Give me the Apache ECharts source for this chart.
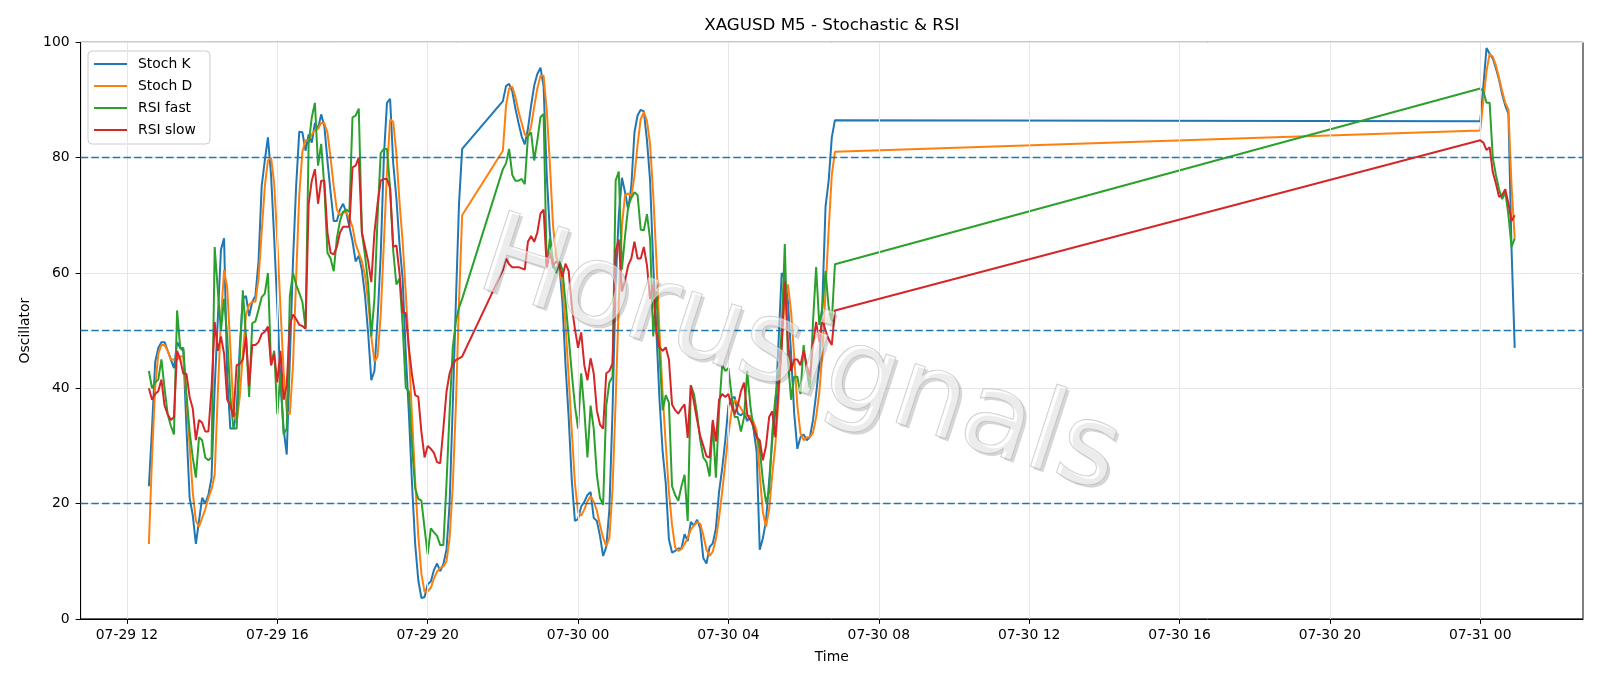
<!DOCTYPE html>
<html><head><meta charset="utf-8">
<script src="https://cdn.jsdelivr.net/npm/echarts@6/dist/echarts.min.js"></script>
<style>html,body{margin:0;padding:0;background:#fff}#c{width:1600px;height:686px}</style>
</head><body><div id="c"></div>
<script>
// time segments (hours since 07-29 00:00), 5-minute bars
const segStartHours = [12 + 35/60, 22, 48];
const segLengths = [101, 107, 12];

const stochK = [
 23,33,44.5,47,48,48,46.5,45,43.5,48,
 47,46.5,33,21,18,13,17,21,20,21.5,
 24.5,40,52,64,66,42,33,33,36,47,
 55.5,56,52.5,55,56,62,75,79.5,83.5,77,
 66,54,41,33,28.5,45,62,75,84.5,84.4,
 81.2,84,82.6,86,85,87.5,85.5,79.5,74,69,
 69,71,72,70.5,68,65.5,62,63,60.5,56,
 49.5,41.4,43,52,63,80,89.5,90.2,79,73,
 65,59,46,35.6,23.4,13,6.7,3.6,3.8,6,
 6.5,8.5,9.6,8.3,9.5,12,20,37,55,72,
 81.5,
 89.8,92.4,92.8,91.5,88.5,86,83.7,82.3,85,89,
 92.5,94.5,95.6,92.4,77,67,61,60.6,61.5,55,
 44,35,24,17,17.3,19.5,20.3,21.5,22,17.5,
 17,14.4,10.9,12.5,19,36,58,70,76.5,74,
 71,75,84.4,87.3,88.3,88,83,76,61.5,50,
 38,29,23.5,13.8,11.5,11.8,12.2,12.2,14.7,13.5,
 16.8,16.2,17.2,15.7,10.5,9.6,12.5,13.1,15.7,22,
 26,31,37,38.2,38.5,35.6,35.3,35.9,34.3,35.3,
 33,29,12,14,17,24,31,36,48,60,
 59,55,46,35.6,29.5,31.5,32,31,31.5,34.5,
 39,44,55,71.5,76,83.5,86.5,
 86.3,92.5,99,98,97.2,95.5,93.5,91,89,87.6,64,47
];
const stochD = [
 13,28,40,46,47.5,47.5,46.5,45,45,45,
 45.5,45.5,38,30,22,17,16,17.5,19,21,
 22.5,25,39,52,60.5,57.5,47,36,34,38.5,
 46,52.8,54.5,55,55,59,67,75,79.5,80,
 75.5,65.5,54,43,36,35.5,44,59,73.5,81,
 83,83,84,84.8,85,86,86,84.3,80,75,
 71,70,70.5,70.5,69.5,68,65,63.5,62,59.5,
 55,49,44.6,45.5,52.7,65,77.5,86.6,86.2,80.7,
 72.3,65.5,56.5,46.5,35,24,14.4,7.8,4.7,4.8,
 5.4,7,8.2,8.8,9.1,10,14,23,37,55,
 70,
 81.2,89,92,92.3,90.5,88,86,84,83.7,85.4,
 88.8,92,94.2,94.2,88.3,79,68.3,62.9,61,58,
 51,42,32.5,23.5,18.5,17.9,19,20.4,21.3,20.3,
 18.8,16.3,14.1,12.6,14.1,22.5,37.7,54.7,68.2,73.5,
 73.8,73.3,76.8,82.2,86.7,87.9,86.4,82.3,73.5,62.5,
 49.8,39,30.2,22.1,16.3,12.4,11.8,12.1,13,14,
 15.5,16.2,16.8,16.5,14.5,12,10.9,11.7,13.8,17.5,
 22,27,32,36,38,37.4,36.5,35.6,35.2,35.2,
 34.2,32.6,25,18.5,16,19,25,30.3,38.3,48,
 55.7,58,53.3,45.5,37,32.2,31,31.5,31.5,32.3,
 35,39.2,46,56.8,67.5,77,81,
 84.7,90,95,98,97.5,96,93.8,91.5,89.5,88.3,75,66
];
const rsiFast = [
 43,40,41,41.5,45,40,35.5,33.5,32,53.5,
 47,47,38.8,32.5,28,24.5,31.5,31,28,27.5,
 28,64.5,57,50,55.5,49,38.5,33,33,45,
 57,49,38.5,51.3,51.6,53.6,55.8,56.4,60,44,
 46.5,35.5,42.6,32,33,56,60,58,56.5,55,
 50.5,82.4,87,89.5,78.6,82.4,75,63.5,62.5,60.3,
 66,69,70.6,71,70.6,87,87.3,88.5,67,63,
 58,49,55.5,69.6,80.8,81.5,81.5,74.7,63.8,58,
 59,51,40.1,39.4,30,22.7,20.8,20.5,15.7,11.2,
 15.7,15,14.4,12.8,12.8,23.4,36,47,51.6,54,
 55.5,
 78,79,81.5,77,76,76,76.3,75.4,83.7,84.4,
 79.5,83,87,87.6,61,66,61.9,60,62,60.6,
 55,49,42.6,37,33,42.6,36.2,28,37,33,
 25,21,19.8,37,41,42,76,77.6,60.6,66.4,
 71.5,73,74,73.5,67.5,67.4,70.2,65.8,49,56.8,
 45.9,36.2,38.8,37.5,23,21.5,20.5,23,25,17,
 40.5,39,35.5,31,28,27.2,24.7,34,24.5,36,
 44,43,43.5,38.8,35,35,32.5,35,43,37,
 33,32,29.5,24,20.2,22,32.4,38.5,42,50,
 65,45,38,42,42,39,47.5,43,40,51.5,
 61,51,54,60.3,54,51.6,61.5,
 92,91.5,89.5,89.5,80,77,74.5,72.8,74,70,64.5,66
];
const rsiSlow = [
 40,38,39,39.5,41.5,37,35.5,34.5,35,46.5,
 45,42.5,42.5,38.5,36.5,31,34.5,34,32.5,32.5,
 40,51.5,46.5,49,46,38,37,35,44,44.2,
 45,49,40.4,47.5,47.5,48,49.4,49.8,50.7,44,
 46,41,46.5,38,40.5,51,52.8,52,51,50.8,
 50.3,72,76,78,72,76,76,67,63.5,63.2,
 64.5,67,68,68,68,78.3,78.6,80,67,64.5,
 62,58.4,67,72,76,76.3,76.3,74.7,64.5,64.8,
 60,53.2,53,47,42.3,38.8,38.5,32.4,28,30,
 29.5,28.8,27.2,27,33,39.4,42.6,44.2,44.9,45.2,
 45.5,
 60.5,62.5,61.5,61,61,61,60.8,60.6,65.4,66.4,
 65.4,67,70.3,71,61,63.5,61.3,62,61.3,59.3,
 61.6,60.3,54.2,50.3,47,49.7,44,41.4,45.2,42.6,
 36.2,33.7,33,42.6,43,44.3,63.8,65.8,56.8,58.7,
 61.3,62.5,65.4,62.5,62.5,64.5,61.3,55.5,58,49.7,
 47.1,46.5,47.1,45,37.2,36.2,35.6,36.5,37.2,31.4,
 40.5,37.5,34.5,31.7,30,28.2,28,34.5,30.8,38,
 39,38.5,39,37,35.5,37,39.5,41,35.5,34.5,
 33.5,31.5,31,27.5,30,35,36,31.5,40,47,
 58.5,48,43,45,45,44,46.5,44,42,47.5,
 51.5,48,52,50,48.5,47.5,53.5,
 83,82.6,81.3,81.8,77.5,75.5,73.2,73.5,74.5,72,69,70
];
const seriesNames = ['Stoch K', 'Stoch D', 'RSI fast', 'RSI slow'];
const seriesColors = ['#1f77b4', '#ff7f0e', '#2ca02c', '#d62728'];
const tickHours = [12, 16, 20, 24, 28, 32, 36, 40, 44, 48];
const tickLabels = ['07-29 12','07-29 16','07-29 20','07-30 00','07-30 04','07-30 08','07-30 12','07-30 16','07-30 20','07-31 00'];
const refLevels = [20, 50, 80];

const times = [];
segStartHours.forEach((s, si) => { for (let i = 0; i < segLengths[si]; i++) times.push(s + i * 5 / 60); });
const tMin = times[0], tMax = times[times.length - 1];
const pad = (tMax - tMin) * 0.05;
const pairs = arr => arr.map((v, i) => [times[i], v]);
const FONT = 'DejaVu Sans';
const values = [stochK, stochD, rsiFast, rsiSlow];

const chart = echarts.init(document.getElementById('c'), null, {renderer: 'canvas'});
const series = [
  { type: 'line', name: '_grid', data: [], silent: true, z: 1,
    markLine: { silent: true, symbol: ['none', 'none'], label: { show: false }, animation: false,
      lineStyle: { color: '#e6e6e6', width: 1, type: 'solid' },
      data: tickHours.map(h => ({ xAxis: h })) } },
  { type: 'line', name: '_ref', data: [], silent: true, z: 1,
    markLine: { silent: true, symbol: ['none', 'none'], label: { show: false }, animation: false,
      lineStyle: { color: '#1f77b4', width: 1.4, type: [7.5, 3.2] },
      data: refLevels.map(v => ({ yAxis: v })) } }
];
values.forEach((arr, k) => series.push({
  type: 'line', name: seriesNames[k], data: pairs(arr), showSymbol: false, symbol: 'none',
  lineStyle: { width: 2, color: seriesColors[k] }, itemStyle: { color: seriesColors[k] },
  z: 2 + k, animation: false
}));

const WM_ROT = -18 * Math.PI / 180;
chart.setOption({
  animation: false,
  backgroundColor: '#fff',
  grid: { left: 80.6, right: 17, top: 42.3, bottom: 67.1, show: true, borderColor: '#000', borderWidth: 1, backgroundColor: 'transparent' },
  xAxis: {
    type: 'value', min: tMin - pad, max: tMax + pad,
    name: 'Time', nameLocation: 'middle', nameGap: 31,
    nameTextStyle: { fontFamily: FONT, fontSize: 13.9, color: '#000' },
    axisLine: { show: true, lineStyle: { color: '#000', width: 1 } },
    axisTick: { show: true, length: 5, inside: false, lineStyle: { color: '#000', width: 1 }, customValues: tickHours },
    axisLabel: { show: true, customValues: tickHours, margin: 9, fontFamily: FONT, fontSize: 13.9, color: '#000',
      formatter: v => { const i = tickHours.indexOf(v); return i >= 0 ? tickLabels[i] : ''; } },
    splitLine: { show: false }
  },
  yAxis: {
    type: 'value', min: 0, max: 100, interval: 20,
    name: 'Oscillator', nameLocation: 'middle', nameGap: 48, nameRotate: 90,
    nameTextStyle: { fontFamily: FONT, fontSize: 13.9, color: '#000' },
    axisLine: { show: true, lineStyle: { color: '#000', width: 1 } },
    axisTick: { show: true, length: 5, inside: false, lineStyle: { color: '#000', width: 1 } },
    axisLabel: { margin: 11, fontFamily: FONT, fontSize: 13.9, color: '#000' },
    splitLine: { show: true, lineStyle: { color: '#e6e6e6', width: 1 } }
  },
  legend: {
    data: seriesNames, orient: 'vertical', left: 88, top: 51,
    icon: 'rect', itemWidth: 33, itemHeight: 2, itemGap: 8,
    padding: [6, 14, 7, 6],
    backgroundColor: 'rgba(255,255,255,0.8)', borderColor: '#cccccc', borderWidth: 1, borderRadius: 4,
    textStyle: { fontFamily: FONT, fontSize: 13.9, color: '#000', padding: [0, 0, 0, 6] }
  },
  graphic: [
    { type: 'text', x: 831.8, y: 25.5, silent: true, z: 10,
      style: { text: 'XAGUSD M5 - Stochastic & RSI', font: '16.7px "DejaVu Sans"', fill: '#000', align: 'center', verticalAlign: 'middle' } },
    { type: 'text', x: 802, y: 363, rotation: WM_ROT, silent: true, z: 20,
      style: { text: 'Horusignals', font: '113px "DejaVu Sans"', fill: 'rgba(0,0,0,0.16)', align: 'center', verticalAlign: 'middle' } },
    { type: 'text', x: 799, y: 360, rotation: WM_ROT, silent: true, z: 21,
      style: { text: 'Horusignals', font: '113px "DejaVu Sans"', fill: 'rgba(255,255,255,0.55)', stroke: 'rgba(175,175,175,0.7)', lineWidth: 1.2, align: 'center', verticalAlign: 'middle' } }
  ],
  series: series
});
</script></body></html>
